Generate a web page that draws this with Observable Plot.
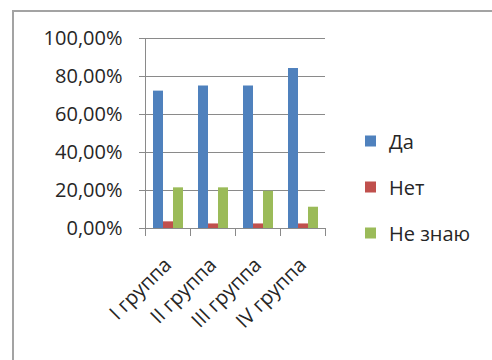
<!DOCTYPE html>
<html>
<head>
<meta charset="utf-8">
<script src="https://cdn.jsdelivr.net/npm/d3@7"></script>
<script src="https://cdn.jsdelivr.net/npm/@observablehq/plot@0.6"></script>
<style>
  body { margin: 0; background: #fff; }
  #wrap { position: relative; width: 492px; height: 360px; overflow: hidden; font-family: "Open Sans", sans-serif; }
  #border { position: absolute; left: 12px; top: 10px; width: 600px; height: 600px;
            border-left: 2px solid #a3a3a3; border-top: 2px solid #a3a3a3; }
  #wrap svg { position: absolute; left: 0; top: 0; }
  .item { position: absolute; left: 365px; display: flex; align-items: center; white-space: nowrap;
          font-size: 20px; color: #262626; transform: translateY(-50%); }
  .sw { width: 11px; height: 11px; margin-right: 13px; }
</style>
</head>
<body>
<div id="wrap"><div id="border"></div></div>
<script>
// Survey answers by group (shares of respondents)
const groups = ["I группа", "II группа", "III группа", "IV группа"];
const seriesNames = ["Да", "Нет", "Не знаю"];
const da = [0.723, 0.75, 0.75, 0.842];
const net = [0.035, 0.024, 0.024, 0.024];
const neZnayu = [0.214, 0.214, 0.196, 0.112];
const yTicks = [0, 0.2, 0.4, 0.6, 0.8, 1];
const colors = ["#4F81BD", "#C0504D", "#9BBB59"];

const seriesValues = [da, net, neZnayu];
const rows = groups.flatMap((g, i) =>
  seriesValues.map((vals, j) => ({group: g, series: seriesNames[j], value: vals[i]}))
);

const pct = d => (d * 100).toFixed(2).replace(".", ",") + "%";
const axisGray = "#8a8a8a";
const textColor = "#262626";

const chart = Plot.plot({
  width: 492,
  height: 360,
  marginLeft: 143,
  marginRight: 166,
  marginTop: 38,
  marginBottom: 132,
  style: {fontFamily: "'Open Sans', sans-serif", fontSize: "20px", background: "transparent", color: textColor, overflow: "visible"},
  fx: {domain: groups, paddingInner: 0, paddingOuter: 0, label: null},
  x: {domain: seriesNames, paddingInner: 0, paddingOuter: 0.64, axis: null},
  y: {domain: [0, 1], axis: null},
  color: {domain: seriesNames, range: colors},
  marks: [
    Plot.gridY(yTicks, {stroke: axisGray, strokeOpacity: 1}),
    Plot.barY(rows, {fx: "group", x: "series", y: "value", fill: "series"}),
    Plot.ruleY([0], {stroke: axisGray}),
    // category boundary ticks below the baseline
    Plot.frame({anchor: "left", stroke: axisGray, insetTop: 190, insetBottom: -7}),
    Plot.frame({anchor: "right", stroke: axisGray, insetTop: 190, insetBottom: -7, facetAnchor: "right"}),
    // vertical value axis line
    Plot.frame({anchor: "left", stroke: axisGray, facetAnchor: "left"}),
    Plot.axisY({ticks: yTicks, tickFormat: pct, tickSize: 6, tickPadding: 17, stroke: axisGray, fill: textColor, label: null}),
    Plot.axisFx({anchor: "bottom", tickSize: 0, tickRotate: -45, tickPadding: 33, fill: textColor, label: null})
  ]
});

const wrap = document.getElementById("wrap");
wrap.appendChild(chart);

// legend on the right
const legendTops = [141, 187, 233];
seriesNames.forEach((name, i) => {
  const item = document.createElement("div");
  item.className = "item";
  item.style.top = legendTops[i] + "px";
  const sw = document.createElement("span");
  sw.className = "sw";
  sw.style.background = colors[i];
  item.appendChild(sw);
  item.appendChild(document.createTextNode(name));
  wrap.appendChild(item);
});
</script>
</body>
</html>
